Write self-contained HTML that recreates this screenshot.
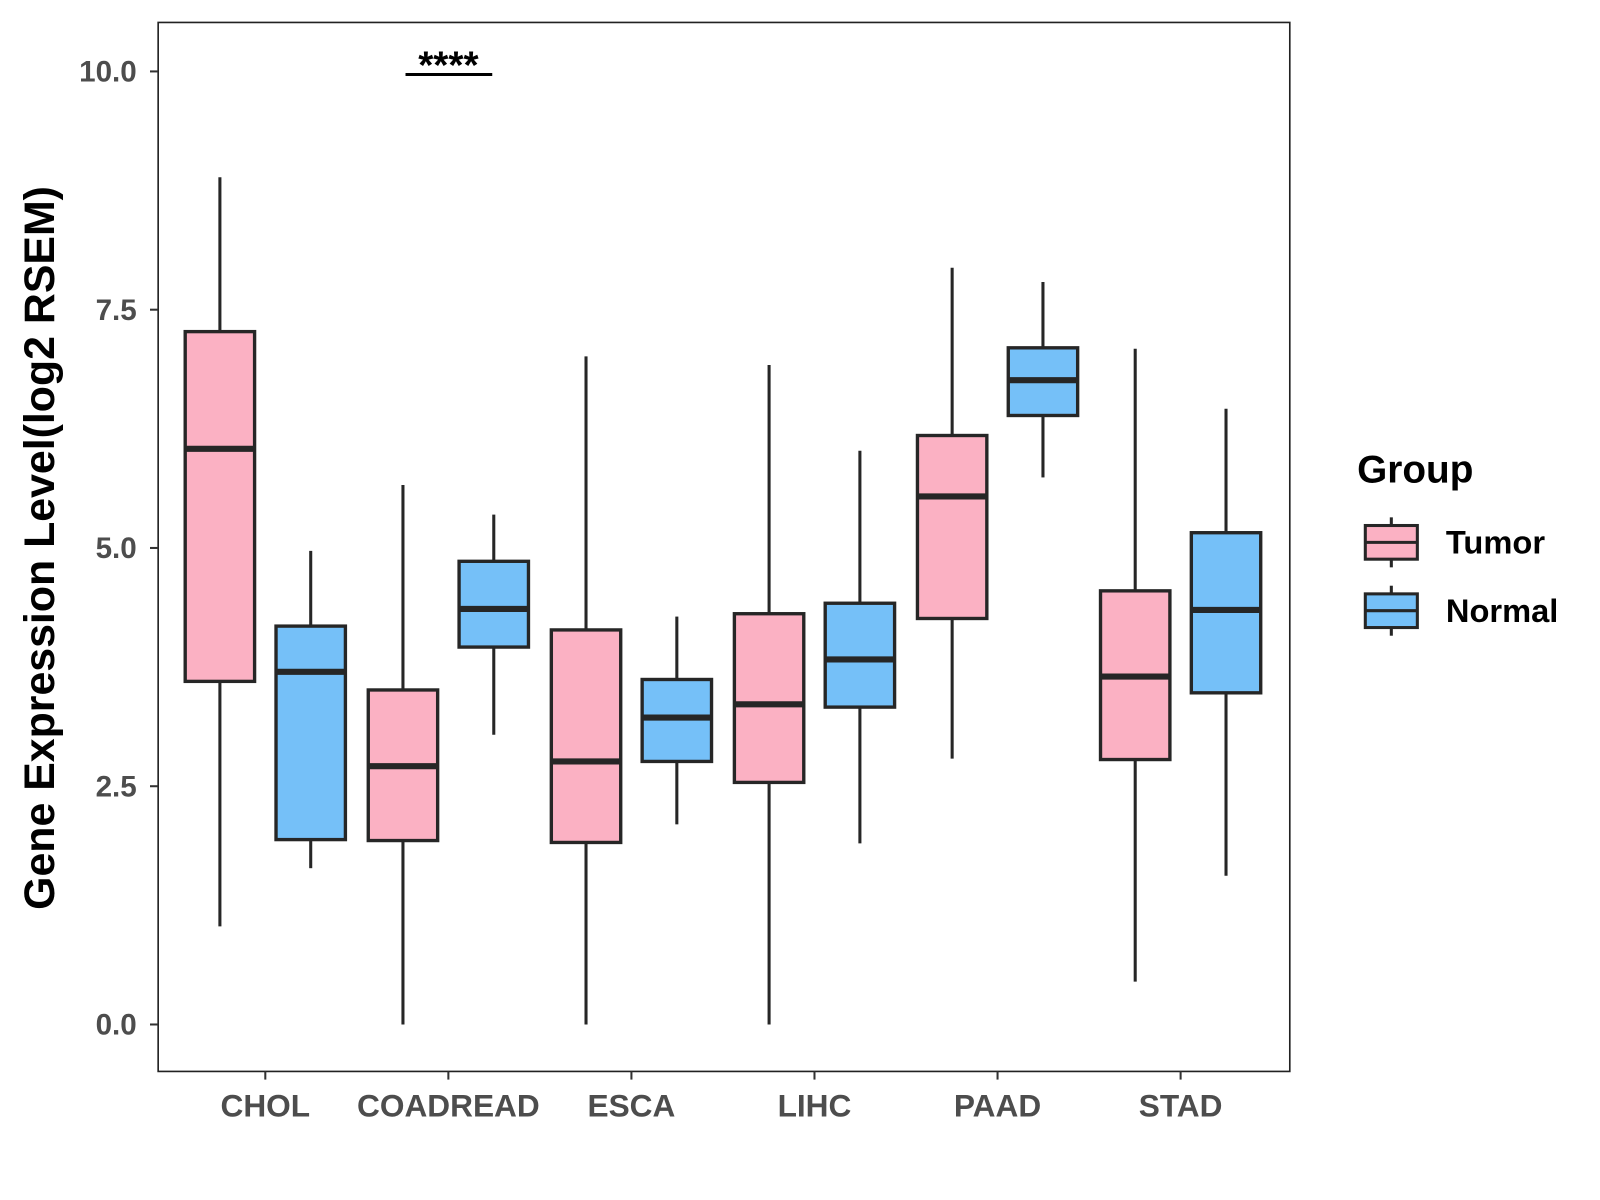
<!DOCTYPE html>
<html><head><meta charset="utf-8"><style>
html,body{margin:0;padding:0;background:#fff;}
svg{display:block;font-family:"Liberation Sans",Arial,sans-serif;}
</style></head><body>
<svg id="chart" width="1600" height="1200" viewBox="0 0 1568 1176">
<rect x="0" y="0" width="1568" height="1176" fill="#fff"/>
<g id="plot"></g>
<g id="legend"></g>
</svg>
<script>
const categories = ["CHOL","COADREAD","ESCA","LIHC","PAAD","STAD"];
const groups = ["Tumor","Normal"];
// [lowerWhisker, Q1, median, Q3, upperWhisker]
const tumorStats = [
  [1.03,3.60,6.04,7.27,8.89],
  [0.00,1.93,2.71,3.51,5.66],
  [0.00,1.91,2.76,4.14,7.01],
  [0.00,2.54,3.36,4.31,6.92],
  [2.79,4.26,5.54,6.18,7.94],
  [0.45,2.78,3.65,4.55,7.09]
];
const normalStats = [
  [1.64,1.94,3.70,4.18,4.97],
  [3.04,3.96,4.36,4.86,5.35],
  [2.10,2.76,3.22,3.62,4.28],
  [1.90,3.33,3.83,4.42,6.02],
  [5.74,6.39,6.76,7.10,7.79],
  [1.56,3.48,4.35,5.16,6.46]
];
const yTicks = [0,2.5,5,7.5,10];
const yTickLabels = ["0.0","2.5","5.0","7.5","10.0"];
const sigLabels = [null,"****",null,null,null,null];
const sigY = 10.0;

const NS = "http://www.w3.org/2000/svg";
const plot = document.getElementById('plot');
const legend = document.getElementById('legend');
const P = {l:155, r:1264, t:22, b:1050};
const y = v => 1004 - v*93.4;
const x = i => 260 + i*179.4;
const dodge = 44.5, bw = 68;
const colors = {Tumor:"#FBB1C3", Normal:"#75C0F8"};
const stroke = "#262626";
function el(tag, attrs, parent){
  const e = document.createElementNS(NS, tag);
  for (const k in attrs) e.setAttribute(k, attrs[k]);
  parent.appendChild(e); return e;
}
const frame = el('rect',{x:P.l,y:P.t,width:P.r-P.l,height:P.b-P.t,fill:'none',stroke:'#222','stroke-width':1.6},plot);


yTicks.forEach((t,i)=>{
  const ln = el('line',{x1:P.l-8,x2:P.l,y1:y(t),y2:y(t),stroke:'#333','stroke-width':2},plot);
  
  
  const tx = el('text',{x:P.l-21,y:y(t)+10,'text-anchor':'end','font-size':29,'font-weight':'bold',fill:'#4d4d4d'},plot);
  tx.textContent = yTickLabels[i];
  
  
});
categories.forEach((c,i)=>{
  const ln = el('line',{x1:x(i),x2:x(i),y1:P.b,y2:P.b+8,stroke:'#333','stroke-width':2},plot);
  
  
  const tx = el('text',{x:x(i),y:1094,'text-anchor':'middle','font-size':31,'font-weight':'bold',fill:'#4d4d4d'},plot);
  tx.textContent = c;
  
  
});
const yt = el('text',{x:0,y:0,transform:'translate(53,537) rotate(-90)','text-anchor':'middle','font-size':42,'font-weight':'bold',fill:'#000'},plot);
yt.textContent = "Gene Expression Level(log2 RSEM)";


function drawBox(cx, s, fill, parent){
  const g = el('g',{},parent);
  
  
  el('line',{x1:cx,x2:cx,y1:y(s[4]),y2:y(s[3]),stroke:stroke,'stroke-width':3},g);
  el('line',{x1:cx,x2:cx,y1:y(s[1]),y2:y(s[0]),stroke:stroke,'stroke-width':3},g);
  el('rect',{x:cx-bw/2,y:y(s[3]),width:bw,height:y(s[1])-y(s[3]),fill:fill,stroke:stroke,'stroke-width':3.3},g);
  el('line',{x1:cx-bw/2,x2:cx+bw/2,y1:y(s[2]),y2:y(s[2]),stroke:stroke,'stroke-width':6},g);
}
categories.forEach((c,i)=>{
  drawBox(x(i)-dodge, tumorStats[i], colors.Tumor, plot);
  drawBox(x(i)+dodge, normalStats[i], colors.Normal, plot);
  if (sigLabels[i]) {
    const ln = el('line',{x1:x(i)-42,x2:x(i)+43,y1:y(sigY)+3,y2:y(sigY)+3,stroke:'#000','stroke-width':3},plot);
    
    
    const tx = el('text',{x:x(i),y:y(sigY)+7,'text-anchor':'middle','font-size':38,'font-weight':'bold',fill:'#000'},plot);
    tx.textContent = sigLabels[i];
    
    
  }
});
const lt = el('text',{x:1330,y:473,'font-size':38,'font-weight':'bold',fill:'#000'},legend);
lt.textContent = "Group";


groups.forEach((gname,i)=>{
  const g = el('g',{},legend);
  
  
  const top = 515 + i*67, kx = 1338, kw = 51, kh = 33, cx = kx+kw/2;
  el('line',{x1:cx,x2:cx,y1:top-8,y2:top+kh+8,stroke:stroke,'stroke-width':3},g);
  el('rect',{x:kx,y:top,width:kw,height:kh,fill:colors[gname],stroke:stroke,'stroke-width':3},g);
  el('line',{x1:kx,x2:kx+kw,y1:top+kh/2,y2:top+kh/2,stroke:stroke,'stroke-width':3},g);
  const t = el('text',{x:1417,y:top+kh/2+11,'font-size':32,'font-weight':'bold',fill:'#000'},g);
  t.textContent = gname;
});
</script>
</body></html>
